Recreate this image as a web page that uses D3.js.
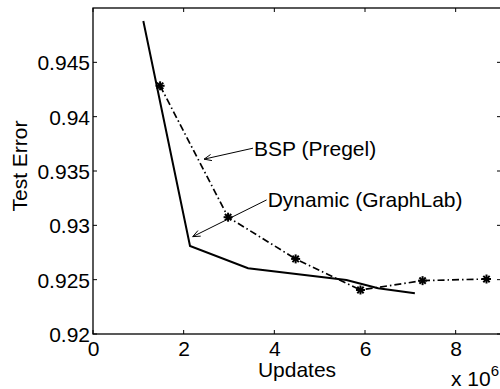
<!DOCTYPE html>
<html><head><meta charset="utf-8">
<script src="https://cdn.jsdelivr.net/npm/d3@7"></script>
<style>
body{margin:0;background:#fff;}
text{font-family:"Liberation Sans",Arial,Helvetica,sans-serif;fill:#000;}
</style></head>
<body>
<svg id="chart" width="500" height="389"></svg>
<script>
// ---- data ----
const dynamicX = [1.11, 2.14, 3.42, 5.59, 6.29, 7.10];
const dynamicY = [0.9488, 0.9281, 0.92605, 0.92497, 0.92421, 0.92375];
const bspX = [1.48, 2.98, 4.47, 5.90, 7.27, 8.68];
const bspY = [0.94284, 0.93075, 0.92691, 0.92405, 0.92491, 0.92506];
const xTicks = [0, 2, 4, 6, 8];
const xTickLabels = ["0", "2", "4", "6", "8"];
const yTicks = [0.92, 0.925, 0.93, 0.935, 0.94, 0.945];
const yTickLabels = ["0.92", "0.925", "0.93", "0.935", "0.94", "0.945"];
const seriesNames = ["BSP (Pregel)", "Dynamic (GraphLab)"];
// annotation arrows: [tailX, tailY, tipX, tipY] in data units
const bspArrow = [3.53, 0.93710, 2.45, 0.93609];
const dynArrow = [3.83, 0.93234, 2.20, 0.92896];

const svg = d3.select("#chart");
const L = 93, R = 501, T = 8, B = 334;
const x = d3.scaleLinear().domain([0, 9]).range([L, R]);
const y = d3.scaleLinear().domain([0.92, 0.95]).range([B, T]);
const fs = 21;

// axes box
const g = svg.append("g");
g.append("rect").attr("x", L).attr("y", T).attr("width", R - L).attr("height", B - T)
  .attr("fill", "none").attr("stroke", "#000").attr("stroke-width", 1.3);

// x axis (ticks inward)
const xAxis = d3.axisBottom(x).tickValues(xTicks).tickSize(0)
  .tickFormat((d, i) => xTickLabels[i]);
const xa = svg.append("g").attr("transform", `translate(0,${B})`).call(xAxis);
xa.select(".domain").remove();
xa.selectAll("text").attr("dy", null).attr("y", 22).style("font-size", fs + "px")
  .style("font-family", '"Liberation Sans",Arial,sans-serif');
xTicks.forEach(v => {
  g.append("line").attr("x1", x(v)).attr("x2", x(v)).attr("y1", B).attr("y2", B - 4).attr("stroke", "#000");
  g.append("line").attr("x1", x(v)).attr("x2", x(v)).attr("y1", T).attr("y2", T + 4).attr("stroke", "#000");
});

// y axis
const yAxis = d3.axisLeft(y).tickValues(yTicks).tickSize(0)
  .tickFormat((d, i) => yTickLabels[i]);
const ya = svg.append("g").attr("transform", `translate(${L},0)`).call(yAxis);
ya.select(".domain").remove();
ya.selectAll("text").attr("x", -3).attr("dy", "0.36em").style("font-size", fs + "px")
  .style("font-family", '"Liberation Sans",Arial,sans-serif');
yTicks.forEach(v => {
  g.append("line").attr("x1", L).attr("x2", L + 4).attr("y1", y(v)).attr("y2", y(v)).attr("stroke", "#000");
  g.append("line").attr("x1", R).attr("x2", R - 4).attr("y1", y(v)).attr("y2", y(v)).attr("stroke", "#000");
});

// axis labels
svg.append("text").attr("x", (L + R) / 2).attr("y", 377).attr("text-anchor", "middle")
  .style("font-size", fs + "px").text("Updates");
svg.append("text").attr("transform", "translate(27,166) rotate(-90)").attr("text-anchor", "middle")
  .style("font-size", fs + "px").text("Test Error");
const mult = svg.append("text").attr("x", 451).attr("y", 386).style("font-size", fs + "px");
mult.append("tspan").text("x 10");
mult.append("tspan").attr("dy", -10).style("font-size", "15px").text("6");

// lines
const line = d3.line().x(d => x(d[0])).y(d => y(d[1]));
const dynData = dynamicX.map((v, i) => [v, dynamicY[i]]);
const bspData = bspX.map((v, i) => [v, bspY[i]]);

svg.append("path").datum(bspData).attr("d", line).attr("fill", "none")
  .attr("stroke", "#000").attr("stroke-width", 1.7).attr("stroke-dasharray", "7,3,1.5,3");
svg.append("path").datum(dynData).attr("d", line).attr("fill", "none")
  .attr("stroke", "#000").attr("stroke-width", 2);

// asterisk markers
const mk = svg.append("g");
bspData.forEach(d => {
  const cx = x(d[0]), cy = y(d[1]), r = 4.5;
  [0, 45, 90, 135].forEach(a => {
    const rad = a * Math.PI / 180;
    mk.append("line").attr("x1", cx - r * Math.cos(rad)).attr("y1", cy - r * Math.sin(rad))
      .attr("x2", cx + r * Math.cos(rad)).attr("y2", cy + r * Math.sin(rad))
      .attr("stroke", "#000").attr("stroke-width", 2);
  });
});

// annotations
function arrow(a) {
  const x1 = x(a[0]), y1 = y(a[1]), x2 = x(a[2]), y2 = y(a[3]);
  svg.append("line").attr("x1", x1).attr("y1", y1).attr("x2", x2).attr("y2", y2)
    .attr("stroke", "#000").attr("stroke-width", 1);
  const ang = Math.atan2(y2 - y1, x2 - x1), hl = 8, ha = 0.4;
  const p = [[x2 - hl * Math.cos(ang - ha), y2 - hl * Math.sin(ang - ha)], [x2, y2],
             [x2 - hl * Math.cos(ang + ha), y2 - hl * Math.sin(ang + ha)]];
  svg.append("path").attr("d", d3.line()(p)).attr("fill", "none").attr("stroke", "#000").attr("stroke-width", 1);
}
arrow(bspArrow);
arrow(dynArrow);
svg.append("text").attr("x", x(bspArrow[0]) + 1).attr("y", y(bspArrow[1])).attr("dy", "0.36em")
  .style("font-size", fs + "px").text(seriesNames[0]);
svg.append("text").attr("x", x(dynArrow[0]) + 1).attr("y", y(dynArrow[1])).attr("dy", "0.36em")
  .style("font-size", fs + "px").text(seriesNames[1]);
</script>
</body></html>
